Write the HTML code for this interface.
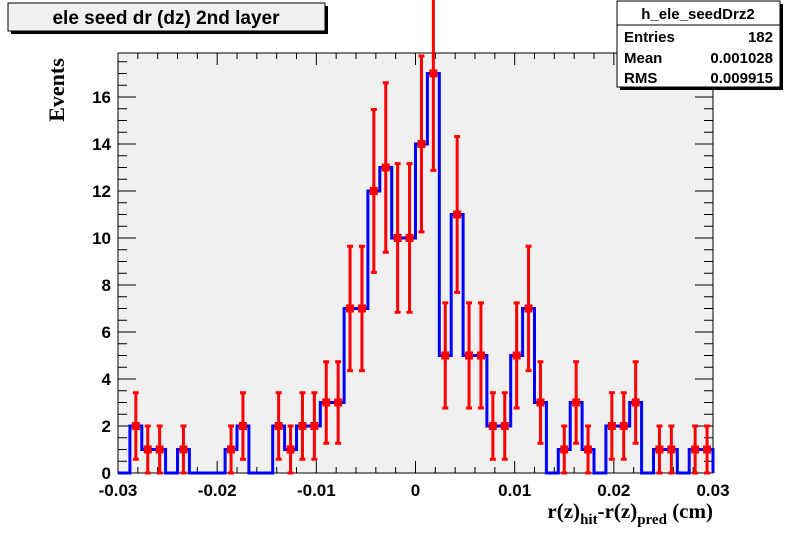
<!DOCTYPE html>
<html><head><meta charset="utf-8"><style>
body{margin:0;background:#fff;}
svg{display:block;font-family:"Liberation Sans",sans-serif;}
</style></head><body>
<svg id="c" width="792" height="544" viewBox="0 0 792 544" xmlns="http://www.w3.org/2000/svg">
<rect x="0" y="0" width="792" height="544" fill="#fff"/>
<rect x="118" y="53" width="595" height="420" fill="#f0f0f0" stroke="#000" stroke-width="1"/>
<g id="ticks"></g>
<g id="hist"></g>
<g id="pts"></g>
<g id="labels" font-weight="bold" font-size="17"></g>
<text x="0" y="0" transform="translate(64,90) rotate(-90)" text-anchor="middle" font-family="'Liberation Serif',serif" font-weight="bold" font-size="22">Events</text>
<text x="713" y="518" text-anchor="end" font-family="'Liberation Serif',serif" font-weight="bold" font-size="21">r(z)<tspan font-size="15" dy="6">hit</tspan><tspan dy="-6">-r(z)</tspan><tspan font-size="15" dy="6">pred</tspan><tspan dy="-6"> (cm)</tspan></text>
<g>
<rect x="11" y="6" width="317" height="28" fill="#000"/>
<rect x="8" y="3" width="317" height="28" fill="#f0f0f0" stroke="#000"/>
<text x="166" y="24" text-anchor="middle" font-weight="bold" font-size="19">ele seed dr (dz) 2nd layer</text>
</g>
<g>
<rect x="620" y="4" width="163" height="86" fill="#000"/>
<rect x="617" y="1" width="163" height="86" fill="#fff" stroke="#000"/>
<line x1="617" y1="25" x2="780" y2="25" stroke="#000"/>
<text x="698" y="19" text-anchor="middle" font-weight="bold" font-size="15">h_ele_seedDrz2</text>
<text x="624" y="42" font-weight="bold" font-size="15">Entries</text><text x="773" y="42" text-anchor="end" font-weight="bold" font-size="15">182</text>
<text x="624" y="63" font-weight="bold" font-size="15">Mean</text><text x="773" y="63" text-anchor="end" font-weight="bold" font-size="15">0.001028</text>
<text x="624" y="83" font-weight="bold" font-size="15">RMS</text><text x="773" y="83" text-anchor="end" font-weight="bold" font-size="15">0.009915</text>
</g>
</svg>
<script>
const counts=[0,2,1,1,0,1,0,0,0,1,2,0,0,2,1,2,2,3,3,7,7,12,13,10,10,14,17,5,11,5,5,2,2,5,7,3,0,1,3,1,0,2,2,3,0,1,1,0,1,1];
const xTicks=[-0.03,-0.02,-0.01,0,0.01,0.02,0.03];
const xTickLabels=["-0.03","-0.02","-0.01","0","0.01","0.02","0.03"];
const yTicks=[0,2,4,6,8,10,12,14,16];
const xmin=-0.03,xmax=0.03,ymax=17.87;
const L=118,R=713,T=53,B=473;
const X=v=>L+(v-xmin)/(xmax-xmin)*(R-L);
const Y=v=>B-v/ymax*(B-T);
const NS="http://www.w3.org/2000/svg";
function mk(tag,attrs,parent){const e=document.createElementNS(NS,tag);for(const k in attrs)e.setAttribute(k,attrs[k]);document.getElementById(parent).appendChild(e);return e;}
const bw=(xmax-xmin)/counts.length;
// ticks
let td="";
for(let i=0;i<=30;i++){const v=xmin+i*0.002;const x=X(v);const major=i%5===0;const len=major?12:6;td+=`M${x},${B}v${-len}M${x},${T}v${len}`;}
for(let v=0;v<=ymax;v+=0.5){const y=Y(v);const major=Math.abs(v%2)<1e-9;const len=major?18:9;td+=`M${L},${y}h${len}M${R},${y}h${-len}`;}
const tp=mk('path',{d:td,stroke:'#000','stroke-width':1,fill:'none'},'ticks');


xTicks.forEach((v,i)=>{const t=mk('text',{x:X(v),y:496,'text-anchor':'middle'},'labels');t.textContent=xTickLabels[i];

});
yTicks.forEach(v=>{const t=mk('text',{x:111,y:Y(v)+6,'text-anchor':'end'},'labels');t.textContent=String(v);

});
// histogram step
let d=`M${X(xmin)},${Y(0)}`;
counts.forEach((c,i)=>{const x0=X(xmin+i*bw),x1=X(xmin+(i+1)*bw);d+=`L${x0},${Y(c)}L${x1},${Y(c)}`;});
d+=`L${X(xmax)},${Y(0)}`;
const hp=mk('path',{d:d,stroke:'#0000ff','stroke-width':3,fill:'none'},'hist');


// points with errors
counts.forEach((c,i)=>{if(c<=0)return;const cx=X(xmin+(i+0.5)*bw);const e=Math.sqrt(c);
const y1=Y(c+e),y2=Y(Math.max(c-e,0));
const g=mk('g',{},'pts');


const ln=document.createElementNS(NS,'path');ln.setAttribute('d',`M${cx},${y1}V${y2}M${cx-3},${y1}h6M${cx-3},${y2}h6`);ln.setAttribute('stroke','#ff0000');ln.setAttribute('stroke-width',3);ln.setAttribute('fill','none');g.appendChild(ln);
const r=document.createElementNS(NS,'rect');r.setAttribute('x',cx-4);r.setAttribute('y',Y(c)-4);r.setAttribute('width',8);r.setAttribute('height',8);r.setAttribute('fill','#ff0000');g.appendChild(r);});
</script>
</body></html>
